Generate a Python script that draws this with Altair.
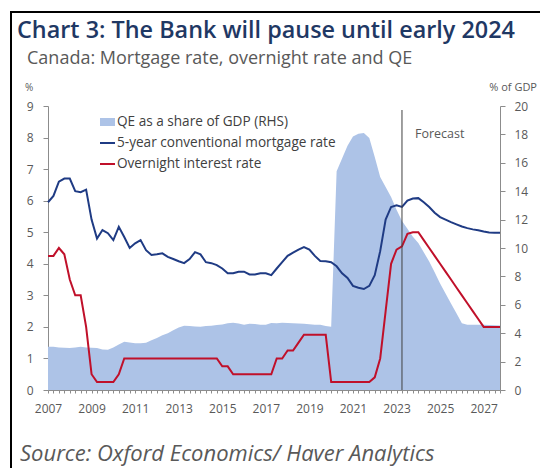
import altair as alt
import pandas as pd

# Quarterly observations, 2007Q1 .. 2027Q4 (fractional years)
quarters = [2007 + i / 4 for i in range(84)]

mortgage = [
    5.95, 6.15, 6.6, 6.7,
    6.7, 6.3, 6.27, 6.35,
    5.4, 4.8, 5.07, 4.97,
    4.75, 5.17, 4.85, 4.5,
    4.65, 4.75, 4.43, 4.28,
    4.3, 4.33, 4.22, 4.15,
    4.08, 4.02, 4.15, 4.37,
    4.3, 4.05, 4.02, 3.96,
    3.85, 3.7, 3.7, 3.75,
    3.75, 3.66, 3.66, 3.7,
    3.7, 3.64, 3.85, 4.05,
    4.25, 4.35, 4.45, 4.53,
    4.45, 4.25, 4.09, 4.08,
    4.05, 3.92, 3.7, 3.55,
    3.3, 3.24, 3.2, 3.3,
    3.64, 4.4, 5.4, 5.8,
    5.85, 5.8, 6.0, 6.07,
    6.08, 5.95, 5.8, 5.62,
    5.48, 5.4, 5.32, 5.25,
    5.18, 5.13, 5.09, 5.06,
    5.02, 4.99, 4.98, 4.98,
]

overnight = [
    4.25, 4.25, 4.5, 4.3,
    3.5, 3.0, 3.0, 2.0,
    0.5, 0.25, 0.25, 0.25,
    0.25, 0.5, 1.0, 1.0,
    1.0, 1.0, 1.0, 1.0,
    1.0, 1.0, 1.0, 1.0,
    1.0, 1.0, 1.0, 1.0,
    1.0, 1.0, 1.0, 1.0,
    0.75, 0.75, 0.5, 0.5,
    0.5, 0.5, 0.5, 0.5,
    0.5, 0.5, 1.0, 1.0,
    1.25, 1.25, 1.5, 1.75,
    1.75, 1.75, 1.75, 1.75,
    0.25, 0.25, 0.25, 0.25,
    0.25, 0.25, 0.25, 0.25,
    0.4, 1.0, 2.5, 4.0,
    4.45, 4.55, 4.95, 5.0,
    5.0, 4.75, 4.5, 4.25,
    4.0, 3.75, 3.5, 3.25,
    3.0, 2.75, 2.5, 2.25,
    2.0, 2.0, 2.0, 2.0,
]

qe_share = [
    3.05, 3.05, 3.0, 2.97,
    2.95, 3.0, 3.04, 3.0,
    2.97, 2.95, 2.85, 2.83,
    3.0, 3.2, 3.39, 3.35,
    3.3, 3.3, 3.32, 3.5,
    3.67, 3.85, 4.0, 4.2,
    4.4, 4.52, 4.5, 4.47,
    4.45, 4.5, 4.52, 4.58,
    4.62, 4.7, 4.73, 4.68,
    4.6, 4.66, 4.65, 4.6,
    4.59, 4.72, 4.7, 4.73,
    4.72, 4.7, 4.68, 4.66,
    4.63, 4.6, 4.59, 4.5,
    4.45, 15.4, 16.3, 17.2,
    17.85, 18.05, 18.1, 17.75,
    16.4, 15.0, 14.3, 13.6,
    12.7, 11.9, 11.35, 10.8,
    10.35, 9.7, 9.05, 8.3,
    7.5, 6.8, 6.1, 5.4,
    4.7, 4.6, 4.6, 4.6,
    4.6, 4.58, 4.56, 4.55,
]

series_names = ["5-year conventional mortgage rate", "Overnight interest rate"]
qe_name = "QE as a share of GDP (RHS)"
forecast_start = [2023.25]
left_ticks = list(range(0, 10))
right_ticks = list(range(0, 21, 2))

FONT = "Open Sans"
GRAY = "#595959"
AXIS_GRAY = "#8c8c8c"
NAVY = "#1f3b84"
RED = "#c0102a"
AREA = "#adc3e7"
TITLE_BLUE = "#1f3864"

df = pd.DataFrame({
    "t": quarters,
    series_names[0]: mortgage,
    series_names[1]: overnight,
    "qe": qe_share,
})

x_enc = alt.X(
    "t:Q",
    scale=alt.Scale(domain=[2007, 2027.75], nice=False, zero=False),
    axis=alt.Axis(
        values=quarters,
        labelExpr="datum.value % 2 == 1 ? '' + datum.value : ''",
        labelOverlap=False,
        labelFlush=False,
        tickSize=3,
        labelPadding=10,
        grid=False,
        title=None,
    ),
)

area = alt.Chart(df).mark_area(color=AREA, opacity=1).encode(
    x=x_enc,
    y=alt.Y(
        "qe:Q",
        scale=alt.Scale(domain=[0, 20], nice=False),
        axis=alt.Axis(orient="right", values=right_ticks, tickSize=5,
                      labelPadding=9, grid=False, title=None),
    ),
)

lines = alt.Chart(df).transform_fold(
    series_names, as_=["series", "value"]
).mark_line(strokeWidth=2).encode(
    x=x_enc,
    y=alt.Y(
        "value:Q",
        scale=alt.Scale(domain=[0, 9], nice=False),
        axis=alt.Axis(orient="left", values=left_ticks, tickSize=5,
                      labelPadding=10, grid=False, title=None),
    ),
    color=alt.Color("series:N", scale=alt.Scale(domain=series_names, range=[NAVY, RED]), legend=None),
)

forecast = alt.Chart(pd.DataFrame({"t": forecast_start})).mark_rule(
    color="#404040", strokeWidth=1
).encode(x=x_enc, y=alt.value(4), y2=alt.value(284))

one = pd.DataFrame({"a": [0]})


def txt(text, x, y, size, color=GRAY, align="left", weight="normal", style="normal", baseline="alphabetic"):
    return alt.Chart(one).mark_text(
        text=text, font=FONT, fontSize=size, color=color, align=align,
        fontWeight=weight, fontStyle=style, baseline=baseline,
    ).encode(x=alt.value(x), y=alt.value(y))


title = txt("Chart 3: The Bank will pause until early 2024", -31, -68, 23.4, TITLE_BLUE, weight=600)
subtitle = txt("Canada: Mortgage rate, overnight rate and QE", -21, -42, 18)
pct_l = txt("%", -23, -15, 10)
pct_r = txt("% of GDP", 489, -15, 11, align="right")
source = txt("Source: Oxford Economics/ Haver Analytics", -28, 355, 22, style="italic")
fc_label = txt("Forecast", 367, 28, 12.5, baseline="middle")

leg_texts = [
    txt(qe_name, 69, 16, 13.6, "#404040", baseline="middle"),
    txt(series_names[0], 69, 37, 13.6, "#404040", baseline="middle"),
    txt(series_names[1], 69, 58, 13.6, "#404040", baseline="middle"),
]
leg_sw = alt.Chart(one).mark_rect(color=AREA).encode(
    x=alt.value(52), x2=alt.value(67), y=alt.value(12), y2=alt.value(20))
leg_l1 = alt.Chart(one).mark_rule(color=NAVY, strokeWidth=2).encode(
    x=alt.value(52), x2=alt.value(67), y=alt.value(37))
leg_l2 = alt.Chart(one).mark_rule(color=RED, strokeWidth=2).encode(
    x=alt.value(52), x2=alt.value(67), y=alt.value(58))

frame_left = alt.Chart(one).mark_rule(color="#000000", strokeWidth=2).encode(
    x=alt.value(-37), y=alt.value(-95), y2=alt.value(362))
frame_top = alt.Chart(one).mark_rule(color="#000000", strokeWidth=2).encode(
    x=alt.value(-38), x2=alt.value(492), y=alt.value(-94))

chart = alt.layer(
    area, lines, forecast, fc_label, leg_sw, leg_l1, leg_l2, *leg_texts,
    title, subtitle, pct_l, pct_r, source, frame_left, frame_top,
).resolve_scale(y="independent").properties(
    width=452,
    height=284,
    padding={"left": 48, "top": 106, "right": 40, "bottom": 78},
    autosize=alt.AutoSizeParams(type="none"),
    background="white",
).configure_view(strokeWidth=0).configure_axis(
    labelFont=FONT,
    labelFontSize=12,
    labelColor=GRAY,
    domainColor=AXIS_GRAY,
    tickColor=AXIS_GRAY,
)

chart.save("out.html", embed_options={"renderer": "svg", "actions": False})
